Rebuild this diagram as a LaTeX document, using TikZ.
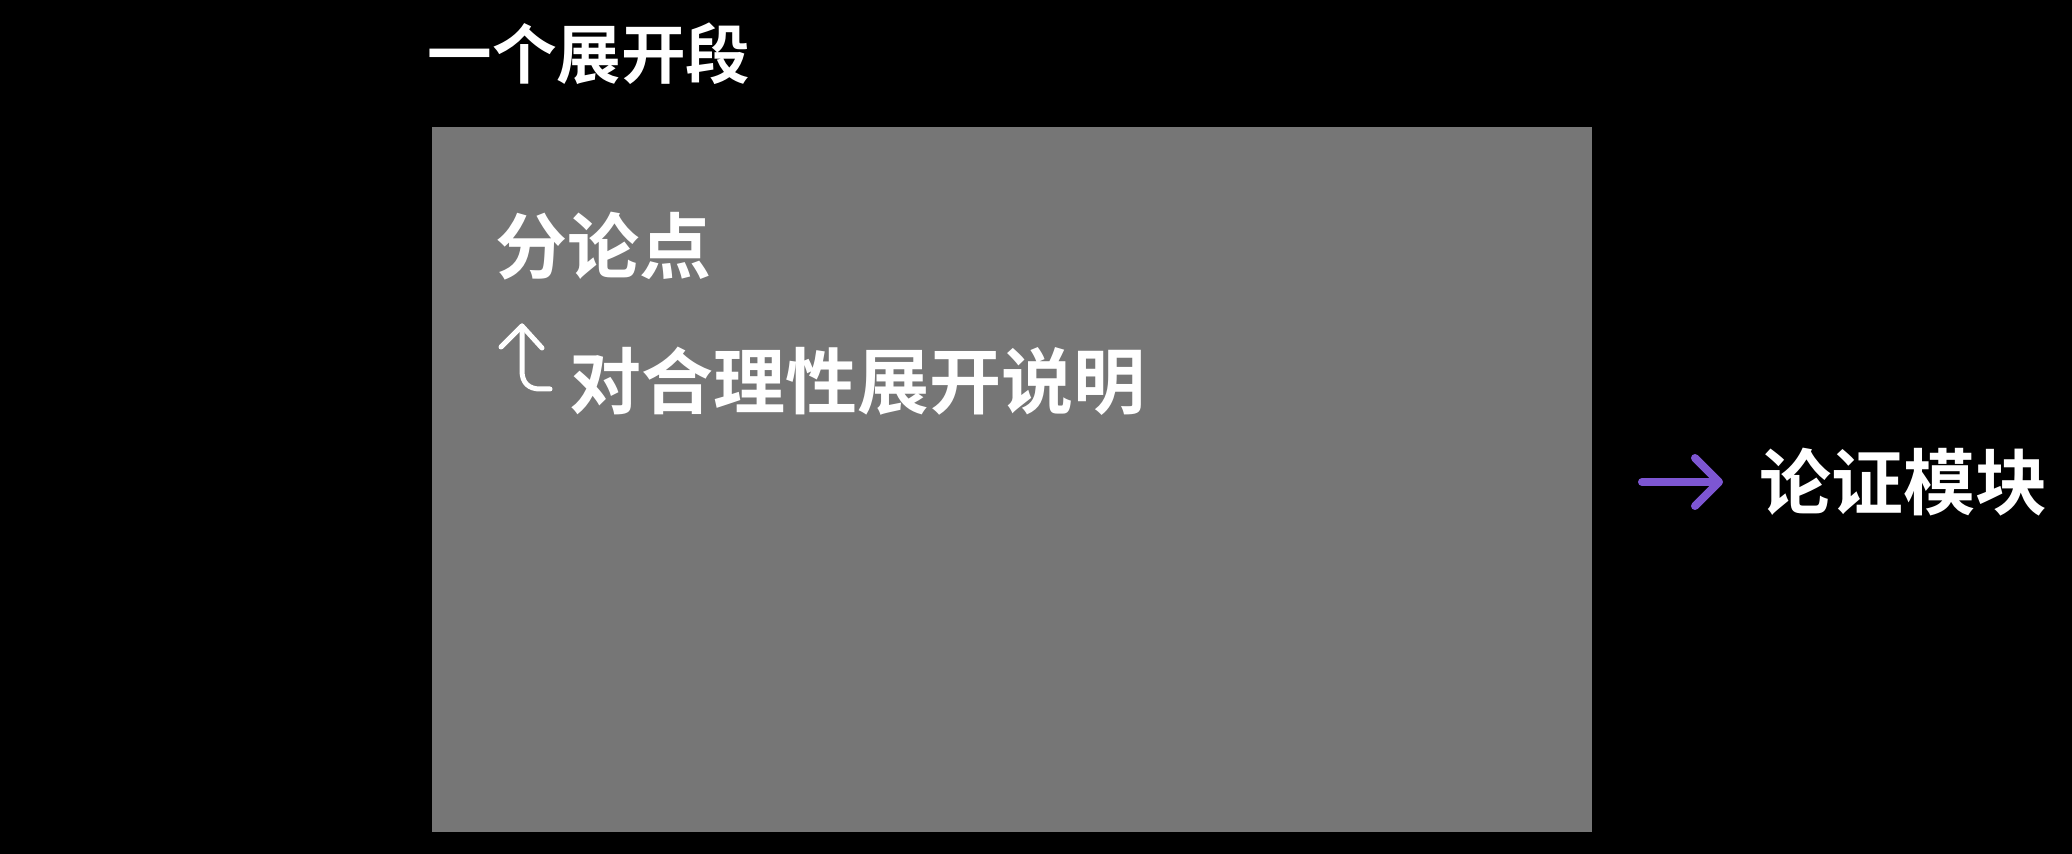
\documentclass[tikz,border=0pt]{standalone}
\usepackage{fontspec}
\setmainfont{Noto Sans CJK SC}[BoldFont={* Bold}]
\usepackage{tikz}
\usetikzlibrary{arrows.meta}
\definecolor{boxgrey}{RGB}{118,118,118}
\definecolor{argpurple}{RGB}{125,86,210}
\tikzset{
  font={\fontsize{36pt}{43pt}\selectfont\bfseries}}

\begin{document}
\begin{tikzpicture}[x=0.5pt,y=-0.5pt]
\tikzstyle{every node}+=[inner sep=0pt, text=white]
\tikzstyle{segbox}=[fill=boxgrey, minimum width=580pt, minimum height=352.5pt]
\tikzstyle{hookarrow}=[white, line width=2.5pt, line cap=round, line join=round]
\tikzstyle{argarrow}=[argpurple, line width=4pt, line cap=round, -{Straight Barb[length=12pt, width=24pt, round]}]
\fill [black] (0,0) rectangle (2072,854);
\node [segbox] (segment) at (1011.5,479.5) {};
\node [anchor=west, font={\fontsize{32.3pt}{38pt}\selectfont\bfseries}] (title) at (427,54) {一个展开段};
\node [anchor=west] (point) at (495,246) {分论点};
\node [anchor=west] (explain) at (569,381) {对合理性展开说明};
\node [anchor=west] (module) at (1759,482) {论证模块};
% hooked arrow before the explanation
\draw [hookarrow] (550,389) -- (540,389) .. controls (529,389) and (522,383) .. (522,371) -- (522,326);
\draw [hookarrow] (501,347) -- (522,326) -- (542,348);
% arrow to the module
\coordinate (argtail) at (1642,482);
\draw [argarrow] (argtail) -- ([xshift=-18pt]module.west);
\end{tikzpicture}
\end{document}
